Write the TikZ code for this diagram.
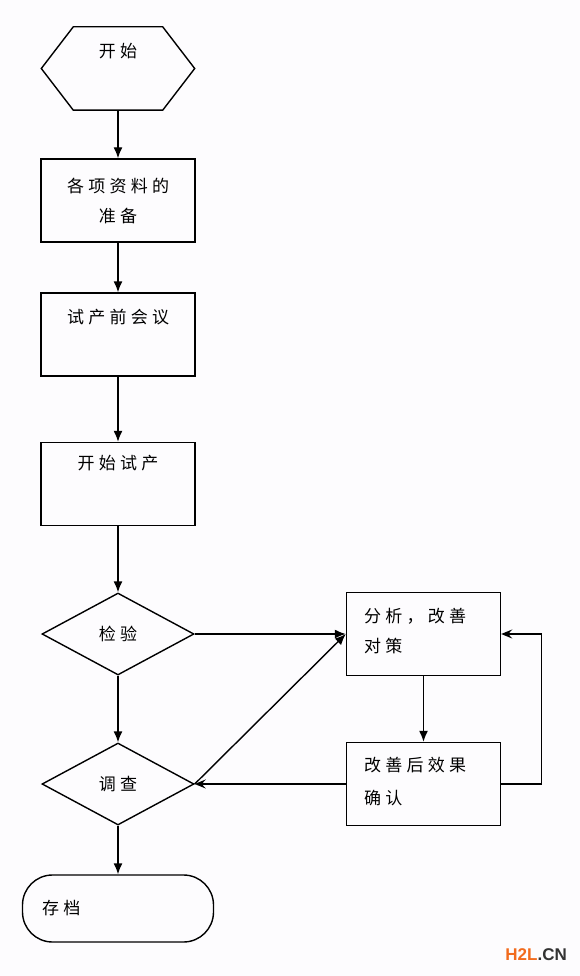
\documentclass[tikz,border=0pt]{standalone}
\usepackage{fontspec}
\usepackage{xcolor}
\usepackage{tikz}
\usetikzlibrary{shapes.geometric,arrows.meta}
\newfontfamily\cjk[LetterSpace=25]{Noto Sans CJK SC}
\newfontfamily\wmfont{Liberation Sans}
\definecolor{wmorange}{HTML}{F26B1D}
\definecolor{wmgray}{HTML}{333333}
\definecolor{paper}{HTML}{FDFCFE}
\tikzset{
  flow/.style={draw, line width=1.4pt, inner sep=0pt},
  box/.style={flow, rectangle, minimum width=154pt, minimum height=83pt},
  check/.style={flow, diamond, minimum width=152pt, minimum height=82pt},
  lbl/.style={font=\cjk\fontsize{17}{30}\selectfont, inner sep=0pt},
  arr/.style={line width=1.4pt, -{Latex[length=11pt,width=9pt]}},
  backarr/.style={line width=1.4pt, -{Stealth[length=11pt,width=9pt,inset=4pt]}},
}
\begin{document}
\begin{tikzpicture}[x=1pt,y=-1pt]
\fill[paper] (0,0) rectangle (580,976);
\useasboundingbox (0,0) rectangle (580,976);

% main column
\node[rectangle, inner sep=0pt, minimum width=153pt, minimum height=83pt,
      label={[lbl, anchor=north, yshift=-16.5pt]north:开始}] (start) at (118,68.5) {};
\draw[line width=1.4pt] ([xshift=32pt]start.north west) -- ([xshift=-32pt]start.north east)
  -- (start.east) -- ([xshift=-32pt]start.south east) -- ([xshift=32pt]start.south west)
  -- (start.west) -- cycle;
\node[box, lbl, align=center, draw] (prep) at (118,200.5) {各项资料的\\准备};
\node[box, label={[lbl, anchor=north, yshift=-16.5pt]north:试产前会议}] (meeting) at (118,334.5) {};
\node[box, label={[lbl, anchor=north, yshift=-13.5pt]north:开始试产}] (trial) at (118,484) {};
\node[check, lbl, draw] (inspect) at (118,634) {检验};
\node[check, lbl, draw] (survey) at (118,784) {调查};
\node[flow, rectangle, rounded corners=30pt, minimum width=191pt, minimum height=67pt,
      label={[lbl, anchor=west, xshift=20pt]west:存档}] (archive) at (118,908.5) {};

% right column
\node[box, label={[lbl, align=left, anchor=north west, xshift=18pt, yshift=-16.5pt]north west:分析，改善\\对策}] (analyse) at (423.5,634) {};
\node[box, label={[lbl, align=left, anchor=north west, xshift=18pt, yshift=-15.5pt]north west:改善后效果\\[3pt]确认}] (confirm) at (423.5,784) {};

% connectors
\draw[arr] (start) -- (prep);
\draw[arr] (prep) -- (meeting);
\draw[arr] (meeting) -- (trial);
\draw[arr] (trial) -- (inspect);
\draw[arr] (inspect) -- (analyse);
\draw[arr] (inspect) -- (survey);
\draw[arr] (survey.east) -- (analyse.west);
\draw[arr] (analyse) -- (confirm);
\draw[backarr] (confirm) -- (survey.east);
\draw[backarr] (confirm.east) -- ++(40,0) |- (analyse.east);
\draw[arr] (survey) -- (archive);

% watermark
\node[font=\wmfont\bfseries\fontsize{17}{17}\selectfont, anchor=east, inner sep=0pt] (mark) at (567,955)
  {\textcolor{wmorange}{H2L}\textcolor{wmgray}{.CN}};
\end{tikzpicture}
\end{document}
